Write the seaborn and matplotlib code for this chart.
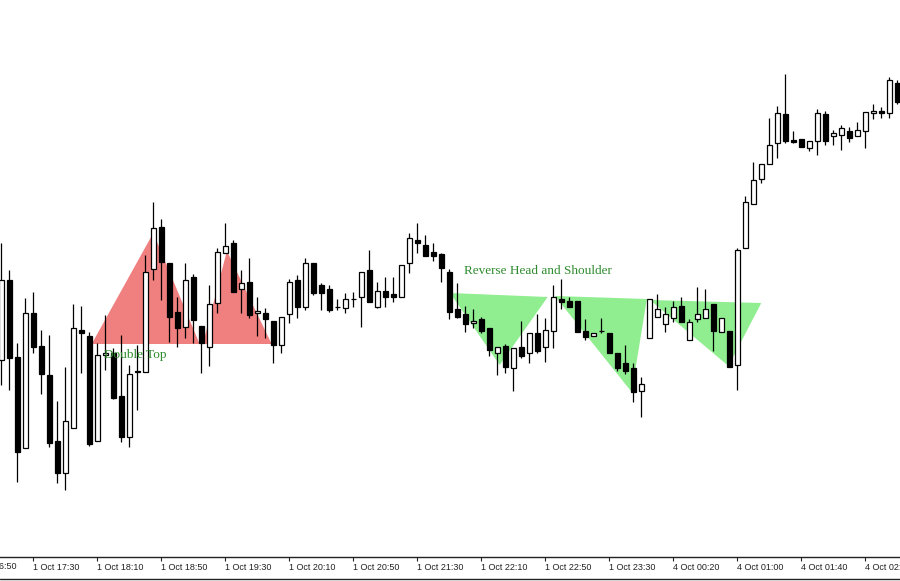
import matplotlib.pyplot as plt
import seaborn as sns
import pandas as pd
import numpy as np
from matplotlib.lines import Line2D
from matplotlib.transforms import blended_transform_factory

# ── Candle data (5-minute bars, levels) ─────────────────────────────
opens = [240, 320, 243, 152, 287, 254, 225, 159, 127, 172,
         270, 264, 159, 245, 247, 204, 163, 228, 228, 331,
         373, 337, 288, 273, 323, 274, 253, 297, 347, 357,
         311, 318, 287, 287, 279, 255, 286, 320, 293, 337,
         315, 311, 293, 292, 301, 303, 330, 293, 309, 306,
         303, 337, 360, 355, 348, 346, 328, 291, 286, 277,
         281, 272, 247, 254, 232, 253, 247, 267, 253, 269,
         301, 299, 299, 269, 264, 269, 267, 247, 237, 232,
         209, 262, 283, 276, 282, 294, 260, 281, 282, 296,
         268, 269, 235, 352, 396, 421, 436, 457, 486, 460,
         461, 452, 459, 486, 464, 465, 469, 464, 469, 487,
         489, 487, 517]
highs = [357, 330, 257, 302, 308, 270, 265, 199, 233, 296,
         294, 268, 257, 285, 252, 265, 235, 255, 345, 398,
         381, 337, 303, 337, 326, 274, 315, 352, 377, 360,
         330, 342, 303, 292, 279, 283, 321, 325, 342, 337,
         317, 315, 301, 307, 308, 328, 350, 318, 323, 323,
         335, 367, 377, 365, 357, 347, 331, 317, 294, 291,
         283, 272, 253, 256, 252, 279, 267, 286, 282, 315,
         321, 303, 299, 281, 267, 282, 267, 247, 255, 237,
         223, 301, 306, 293, 299, 303, 281, 313, 311, 296,
         282, 269, 352, 404, 438, 436, 482, 494, 526, 469,
         461, 459, 491, 489, 470, 475, 473, 478, 488, 496,
         493, 523, 520]
lows = [215, 210, 118, 152, 247, 206, 153, 117, 110, 172,
        227, 154, 159, 230, 201, 158, 153, 190, 228, 320,
        300, 258, 253, 262, 257, 227, 234, 287, 347, 308,
        287, 282, 264, 262, 237, 247, 277, 282, 290, 305,
        290, 288, 290, 287, 293, 273, 298, 292, 293, 298,
        303, 327, 347, 344, 339, 318, 281, 282, 268, 272,
        267, 244, 225, 227, 209, 242, 237, 247, 238, 252,
        291, 293, 268, 260, 264, 267, 247, 229, 226, 198,
        183, 262, 283, 268, 278, 278, 260, 278, 282, 249,
        268, 233, 210, 352, 396, 417, 436, 442, 457, 457,
        453, 449, 445, 455, 455, 450, 458, 464, 452, 481,
        482, 482, 496]
closes = [320, 242, 148, 287, 253, 226, 157, 127, 179, 272,
          267, 156, 245, 247, 202, 163, 226, 229, 328, 372,
          338, 283, 272, 320, 280, 257, 296, 348, 354, 308,
          317, 285, 289, 281, 255, 283, 318, 293, 337, 307,
          307, 290, 293, 301, 301, 328, 298, 309, 303, 303,
          335, 362, 357, 344, 344, 332, 288, 283, 276, 279,
          269, 250, 253, 233, 252, 244, 267, 249, 270, 303,
          298, 293, 268, 263, 267, 269, 247, 232, 229, 208,
          216, 301, 291, 286, 293, 278, 278, 286, 291, 269,
          282, 233, 350, 398, 420, 436, 455, 487, 459, 458,
          453, 459, 487, 459, 467, 472, 462, 470, 488, 489,
          487, 520, 498]

tick_bars = [-4, 4, 12, 20, 28, 36, 44, 52, 60, 68, 76, 84, 92, 100, 108]
tick_labels = ['1 Oct 16:50', '1 Oct 17:30', '1 Oct 18:10', '1 Oct 18:50',
               '1 Oct 19:30', '1 Oct 20:10', '1 Oct 20:50', '1 Oct 21:30',
               '1 Oct 22:10', '1 Oct 22:50', '1 Oct 23:30', '4 Oct 00:20',
               '4 Oct 01:00', '4 Oct 01:40', '4 Oct 02:20']

# pattern outlines as (bar index, level)
double_top = [[(11.3, 256), (19.0, 367), (24.8, 256)],
              [(25.2, 256), (28.2, 349), (33.8, 256)]]
head_shoulders = [[(56.1, 307), (68.3, 303), (62.3, 235)],
                  [(69.2, 304), (80.7, 301), (78.8, 208)],
                  [(81.1, 300), (95.0, 297), (90.9, 234)]]

df = pd.DataFrame({'open': opens, 'high': highs, 'low': lows, 'close': closes})
df['bar'] = np.arange(len(df))
df['up'] = df['close'] >= df['open']

sns.set_theme(style='white')
plt.rcParams['font.family'] = ['Liberation Sans', 'DejaVu Sans']

fig = plt.figure(figsize=(9, 5.81), dpi=100)
ax = fig.add_axes([0, 24 / 581, 1, 557 / 581])

# ── pattern shading ─────────────────────────────────────
for tri in double_top:
    xs, ys = zip(*tri)
    ax.fill(xs, ys, color='#f08080', lw=0, zorder=1)
for tri in head_shoulders:
    xs, ys = zip(*tri)
    ax.fill(xs, ys, color='#90ee90', lw=0, zorder=1)

# ── candles ────────────────────────────────────────────
ax.vlines(df['bar'], df['low'], df['high'], color='black', lw=0.9, zorder=2)
ax.bar(df['bar'], df['close'] - df['open'], bottom=df['open'], width=0.68,
       color=np.where(df['up'], 'white', 'black'), edgecolor='black',
       linewidth=0.9, zorder=3)

ax.text(12.9, 245, 'Double Top', family='Liberation Serif', fontsize=9.5,
        color='#2e8b2e', va='center', ha='left', zorder=4)
ax.text(57.9, 329, 'Reverse Head and Shoulder', family='Liberation Serif',
        fontsize=9.5, color='#2e8b2e', va='center', ha='left', zorder=4)

ax.set_xlim(-0.16, 112.34)
ax.set_ylim(43, 600)

for side in ['top', 'left', 'right']:
    ax.spines[side].set_visible(False)
ax.spines['bottom'].set_color('#222222')
ax.spines['bottom'].set_linewidth(1.0)
ax.set_yticks([])
ax.set_xticks(tick_bars[1:])
ax.set_xticklabels(tick_labels[1:], ha='left', fontsize=6.5, color='#222222')
ax.tick_params(axis='x', direction='out', length=3, width=0.8,
               color='#222222', pad=1.5, bottom=True)

# first label sits mostly off the left edge
trans = blended_transform_factory(ax.transData, ax.transAxes)
ax.text(tick_bars[0] + 0.1, -0.0085, tick_labels[0], transform=trans,
        fontsize=6.5, color='#222222', ha='left', va='top', clip_on=False)

fig.add_artist(Line2D([0, 1], [2 / 581, 2 / 581], color='#222222', lw=1.0))

plt.savefig('out.png', dpi=100)
